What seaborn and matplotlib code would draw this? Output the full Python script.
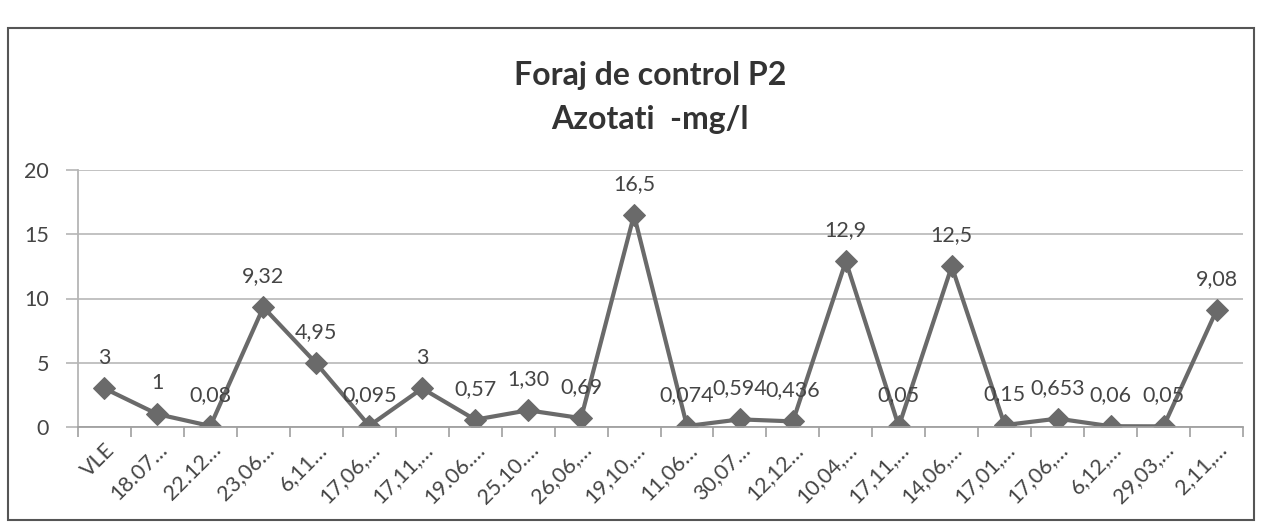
import matplotlib
matplotlib.use("Agg")
import matplotlib.pyplot as plt
import seaborn as sns
import numpy as np
import pandas as pd
from matplotlib.patches import Rectangle

categories = ["VLE", "18.07…", "22.12…", "23,06…", "6,11…", "17,06,…", "17,11,…",
              "19.06.…", "25.10.…", "26,06,…", "19,10,…", "11,06…", "30,07…",
              "12,12…", "10,04,…", "17,11,…", "14,06,…", "17,01,…", "17,06,…",
              "6,12,…", "29,03,…", "2,11,…"]
values = [3, 1, 0.08, 9.32, 4.95, 0.095, 3, 0.57, 1.30, 0.69, 16.5, 0.074, 0.594,
          0.436, 12.9, 0.05, 12.5, 0.15, 0.653, 0.06, 0.05, 9.08]
value_labels = ["3", "1", "0,08", "9,32", "4,95", "0,095", "3", "0,57", "1,30", "0,69",
                "16,5", "0,074", "0,594", "0,436", "12,9", "0,05", "12,5", "0,15",
                "0,653", "0,06", "0,05", "9,08"]
y_ticks = [0, 5, 10, 15, 20]
title_lines = ["Foraj de control P2", "Azotati  -mg/l"]

sns.set_theme(style="white")
plt.rcParams['font.family'] = ['Lato', 'DejaVu Sans']

df = pd.DataFrame({"pos": np.arange(len(categories)), "val": values})

fig = plt.figure(figsize=(12.62, 5.28), dpi=100)
fig.patch.set_facecolor("white")
ax = fig.add_axes([78/1262, 1-427/528, (1243-78)/1262, (427-170)/528])

line_color = "#6a6a6a"
sns.lineplot(data=df, x="pos", y="val", ax=ax, color=line_color, linewidth=3.0,
             marker="D", markersize=11, markeredgecolor=line_color,
             markerfacecolor=line_color)

text_color = "#454545"
ax.set_xlim(-0.5, len(categories) - 0.5)
ax.set_ylim(0, 20)
ax.set_yticks(y_ticks)
ax.set_yticklabels([str(t) for t in y_ticks], fontsize=15.5, color=text_color)
ax.set_xticks(np.arange(len(categories)))
ax.set_xticklabels(categories, rotation=45, ha="right", rotation_mode="anchor",
                   fontsize=15.5, color=text_color)
ax.set_xticks(np.arange(len(categories) + 1) - 0.5, minor=True)
ax.tick_params(axis="x", which="major", length=0, pad=9)
ax.tick_params(axis="x", which="minor", length=7, width=1.2, color="#a0a0a0", bottom=True)
ax.tick_params(axis="y", which="major", length=9, width=1.2, color="#b5b5b5", left=True, pad=12)
ax.set_xlabel("")
ax.set_ylabel("")
ax.grid(axis="y", color="#bdbdbd", linewidth=1.3)
ax.grid(axis="x", visible=False)
for s in ["top", "right"]:
    ax.spines[s].set_visible(False)
ax.spines["left"].set_color("#b5b5b5")
ax.spines["bottom"].set_color("#a0a0a0")
ax.spines["left"].set_linewidth(1.3)
ax.spines["bottom"].set_linewidth(1.3)

for i, (v, lab) in enumerate(zip(values, value_labels)):
    ax.annotate(lab, xy=(i, v), xytext=(0, 15), textcoords="offset points",
                ha="center", va="bottom", fontsize=15.5, color=text_color,
                annotation_clip=False)

fig.text(0.5 + 0.015, 1 - 75/528, title_lines[0], ha="center", va="center",
         fontsize=23, fontweight="bold", color="#333333")
fig.text(0.5 + 0.015, 1 - 120/528, title_lines[1], ha="center", va="center",
         fontsize=23, fontweight="bold", color="#333333")

border = Rectangle((8/1262, 8/528), (1254-8)/1262, (500-8)/528, transform=fig.transFigure,
                   fill=False, edgecolor="#555555", linewidth=1.5)
fig.patches.append(border)

fig.savefig("out.png", dpi=100, facecolor="white")
